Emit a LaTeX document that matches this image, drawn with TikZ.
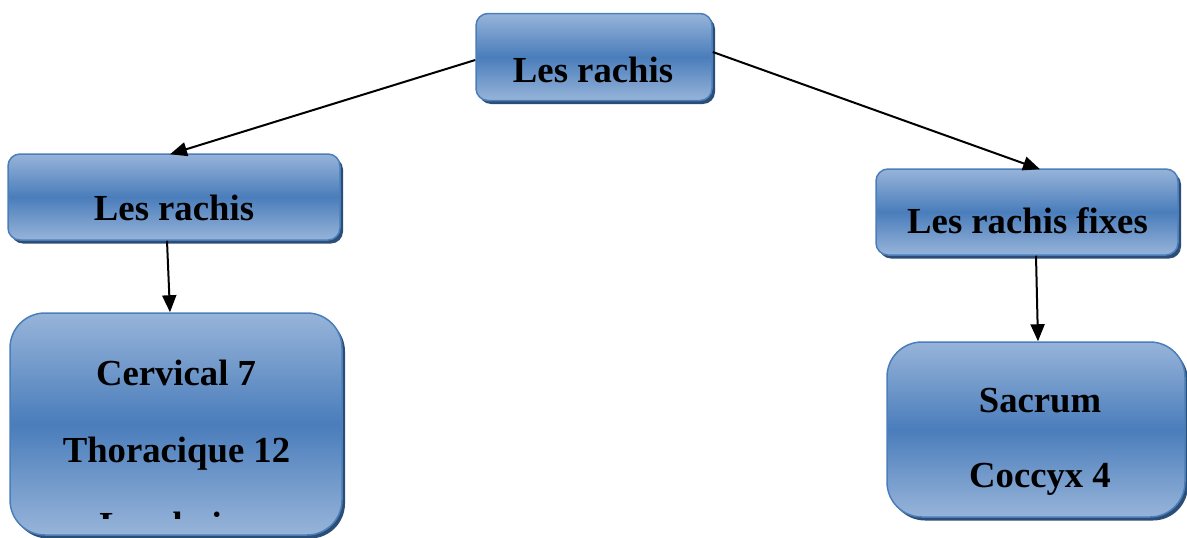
\documentclass[tikz,border=0pt]{standalone}
\usepackage{fontspec}
\setmainfont{Liberation Serif}
\usetikzlibrary{arrows.meta,shadows,calc}
\definecolor{lightb}{HTML}{97B4D9}
\definecolor{midb}{HTML}{4A7DBB}
\definecolor{edgeb}{HTML}{4A7EBB}
\definecolor{shadb}{HTML}{2C4D75}
\begin{document}
\begin{tikzpicture}[x=1pt,y=-1pt,
  box/.style={draw=edgeb, line width=1.5pt, top color=lightb, bottom color=lightb, middle color=midb,
    drop shadow={shadow xshift=3pt,shadow yshift=-3.5pt,fill=shadb,opacity=1}, inner sep=0pt},
  lbl/.style={font=\fontsize{36.7}{44}\bfseries\selectfont, inner sep=0pt, anchor=base},
  conn/.style={line width=2pt, -{Triangle[length=17pt,width=14pt]}}]
\useasboundingbox (0,0) rectangle (1187,538);
\clip (0,0) rectangle (1187,538);
% boxes
\node[box, rounded corners=12pt, minimum width=236pt, minimum height=87pt] (top) at (594,57) {};
\node[box, rounded corners=12pt, minimum width=332pt, minimum height=86pt] (left) at (174,197) {};
\node[box, rounded corners=35pt, minimum width=332pt, minimum height=222pt] (leftlist) at (176,424) {};
\node[box, rounded corners=12pt, minimum width=302pt, minimum height=86pt] (right) at (1027,212) {};
\node[box, rounded corners=35pt, minimum width=298pt, minimum height=175pt] (rightlist) at (1036,429.5) {};
% texts
\node[lbl] (ttop) at (593,82) {Les rachis};
\node[lbl] (tleft) at (174,220) {Les rachis};
\node[lbl] (tright) at (1027.5,233) {Les rachis fixes};
\node[lbl] (tcerv) at (176,385) {Cervical 7};
\node[lbl] (tthor) at (176.5,462) {Thoracique 12};
\begin{scope}
\clip (0,0) rectangle (1187,518);
\node[lbl] (tlomb) at (176.5,537) {Lombaire};
\end{scope}
\node[lbl] (tsac) at (1040,412) {Sacrum};
\node[lbl] (tcoc) at (1040,487) {Coccyx 4};
% connectors
\coordinate (a1) at ($(top.west)+(0,3)$);
\coordinate (a2) at ($(left.north)+(-4,1)$);
\draw[conn] (a1) -- (a2);
\coordinate (b1) at ($(top.east)+(0,-5)$);
\coordinate (b2) at ($(right.north)+(13,1)$);
\draw[conn] (b1) -- (b2);
\coordinate (c1) at ($(left.south)+(-7,0)$);
\coordinate (c2) at ($(leftlist.north)+(-6,0)$);
\draw[conn] (c1) -- (c2);
\coordinate (d1) at ($(right.south)+(9,0)$);
\coordinate (d2) at ($(rightlist.north)+(2,0)$);
\draw[conn] (d1) -- (d2);
\end{tikzpicture}
\end{document}
